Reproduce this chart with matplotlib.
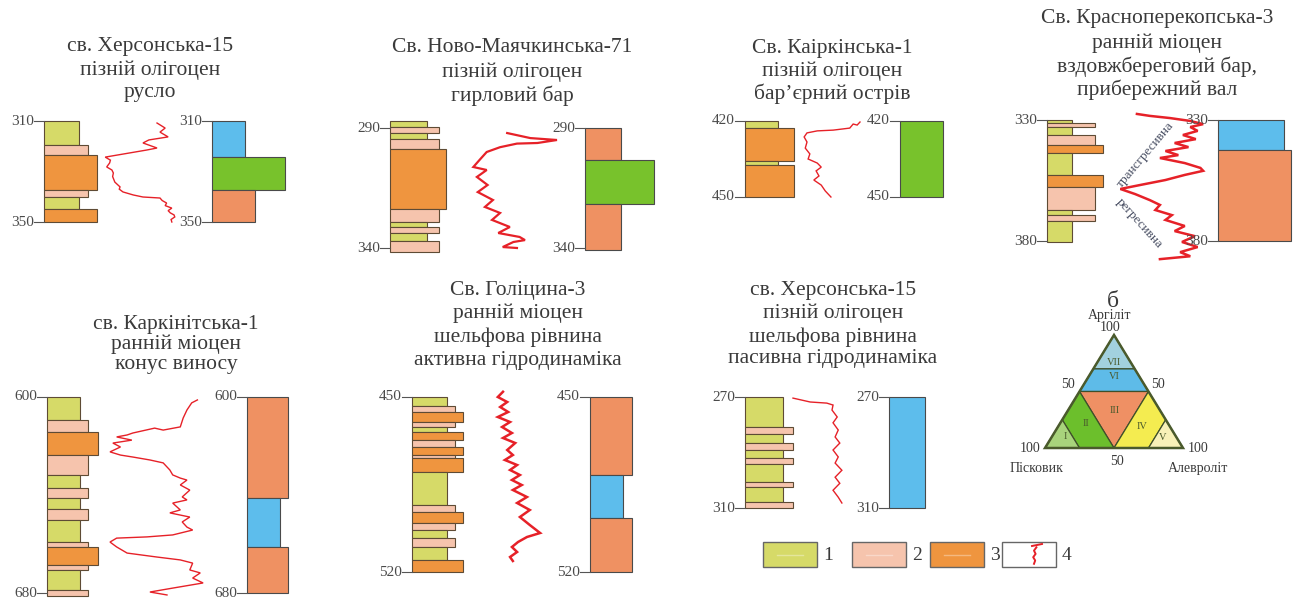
import matplotlib
matplotlib.use("Agg")
import matplotlib.pyplot as plt
from matplotlib.patches import Polygon, Rectangle

plt.rcParams['font.family'] = ['Liberation Serif', 'DejaVu Serif']

# ---------------- data ----------------
# lithology codes: 1 sandstone(yellow) 2 siltstone(pink) 3 claystone(orange)
# facies codes: 'b' blue, 'g' green, 's' salmon

P1_TITLE = ["св. Херсонська-15", "пізній олігоцен", "русло"]
P1_TICKS = [310, 350]
P1_LITH_TOP = [310, 319.5, 323.5, 337.3, 340, 345]
P1_LITH_BOT = [319.5, 323.5, 337.3, 340, 345, 350]
P1_LITH = [1, 2, 3, 2, 1, 3]
P1_LOG_D = [310.8, 312.8, 314.4, 316.3, 317.5, 318.7, 320.7, 321.5, 324.3, 325.5, 326.6, 328.2, 329.4, 330.6,
            332.0, 334.2, 336.1, 337.0, 338.1, 339.3, 340.1, 340.5, 341.5, 342.5, 343.5, 344.5, 345.5, 346.4,
            347.2, 348.0, 349.0, 350.0]
P1_LOG_V = [0.73, 0.84, 0.77, 0.88, 0.62, 0.54, 0.73, 0.59, 0.03, 0.10, 0.09, 0.05, 0.12, 0.14,
            0.13, 0.16, 0.23, 0.22, 0.27, 0.41, 0.54, 0.77, 0.80, 0.86, 0.84, 0.93, 0.88, 0.91,
            0.96, 0.97, 0.92, 0.93]
P1_FAC_TOP = [310, 324.3, 337.3]
P1_FAC_BOT = [324.3, 337.3, 350]
P1_FAC = ['b', 'g', 's']

P2_TITLE = ["Св. Ново-Маячкинська-71", "пізній олігоцен", "гирловий бар"]
P2_TICKS = [290, 340]
P2_LITH_TOP = [287.1, 289.6, 292.1, 294.6, 298.75, 323.75, 329.2, 331.25, 333.75, 337.1]
P2_LITH_BOT = [289.6, 292.1, 294.6, 298.75, 323.75, 329.2, 331.25, 333.75, 337.1, 341.7]
P2_LITH = [1, 2, 1, 2, 3, 2, 1, 2, 1, 2]
P2_LOG_D = [292.1, 294.2, 295.0, 296.25, 296.5, 298.0, 300.0, 303.3, 306.25, 307.5, 310.4, 313.75, 316.7,
            320.0, 322.9, 325.4, 328.3, 331.25, 333.75, 335.4, 336.7, 337.5, 339.6, 340.0]
P2_LOG_V = [0.44, 0.70, 1.00, 0.78, 0.55, 0.36, 0.21, 0.13, 0.06, 0.21, 0.10, 0.22, 0.11,
            0.28, 0.19, 0.36, 0.27, 0.47, 0.34, 0.58, 0.64, 0.51, 0.39, 0.55]
P2_FAC_TOP = [290, 303.3, 321.7]
P2_FAC_BOT = [303.3, 321.7, 340.8]
P2_FAC = ['s', 'g', 's']

P3_TITLE = ["Св. Каіркінська-1", "пізній олігоцен", "бар’єрний острів"]
P3_TICKS = [420, 450]
P3_LITH_TOP = [420, 422.8, 435.8, 437.4]
P3_LITH_BOT = [422.8, 435.8, 437.4, 450]
P3_LITH = [1, 3, 1, 3]
P3_LOG_D = [420.4, 421.6, 421.2, 422.8, 423.6, 423.9, 424.7, 426.3, 428.3, 430.7, 433.0, 435.0, 436.6,
            438.2, 439.7, 441.7, 443.3, 445.3, 447.6, 450.0]
P3_LOG_V = [1.00, 0.95, 0.88, 0.82, 0.53, 0.25, 0.07, 0.02, 0.07, 0.04, 0.12, 0.09, 0.25,
            0.32, 0.23, 0.28, 0.19, 0.32, 0.39, 0.49]
P3_FAC_TOP = [420]
P3_FAC_BOT = [450]
P3_FAC = ['g']

P4_TITLE = ["Св. Красноперекопська-3", "ранній міоцен", "вздовжбереговий бар,", "прибережний вал"]
P4_TICKS = [330, 380]
P4_LITH_TOP = [330, 331.1, 332.8, 336.2, 340.3, 343.8, 352.7, 357.8, 367.2, 369.3, 371.6]
P4_LITH_BOT = [331.1, 332.8, 336.2, 340.3, 343.8, 352.7, 357.8, 367.2, 369.3, 371.6, 380.3]
P4_LITH = [1, 2, 1, 2, 3, 1, 3, 2, 1, 2, 1]
P4_LOG_D = [327.5, 328.3, 329.2, 330.4, 331.7, 332.9, 334.5, 336.2, 337.9, 339.5, 341.2, 342.8, 344.5,
            345.7, 347.8, 349.8, 351.0, 352.7, 354.8, 356.9, 358.5, 360.6, 363.1, 365.1, 367.2, 369.3,
            371.3, 373.8, 375.9, 378.0, 380.4, 382.5, 384.6, 386.3, 387.5]
P4_LOG_V = [0.26, 0.40, 0.62, 0.84, 0.98, 0.84, 0.92, 0.76, 0.90, 0.67, 0.82, 0.57, 0.71,
            0.51, 0.78, 0.95, 0.98, 0.78, 0.57, 0.29, 0.08, 0.24, 0.40, 0.51, 0.46, 0.64,
            0.57, 0.78, 0.67, 0.89, 0.75, 0.92, 0.73, 0.84, 0.51]
P4_FAC_TOP = [330, 342.4]
P4_FAC_BOT = [342.4, 380]
P4_FAC = ['b', 's']
P4_TREND = ["трансгресивна", "регресивна"]

P5_TITLE = ["св. Каркінітська-1", "ранній міоцен", "конус виносу"]
P5_TICKS = [600, 680]
P5_LITH_TOP = [600, 609.4, 614.3, 623.7, 631.8, 637.1, 641.2, 645.7, 650.2, 659.2, 661.2, 668.6, 670.6, 678.8]
P5_LITH_BOT = [609.4, 614.3, 623.7, 631.8, 637.1, 641.2, 645.7, 650.2, 659.2, 661.2, 668.6, 670.6, 678.8, 681.2]
P5_LITH = [1, 2, 3, 2, 1, 2, 1, 2, 1, 2, 3, 2, 1, 2]
P5_LOG_D = [601.2, 602.4, 605.3, 608.6, 612.2, 613.5, 612.7, 614.7, 615.5, 616.3, 617.6, 618.8, 620.4,
            622.4, 623.7, 624.5, 625.7, 626.9, 629.8, 631.8, 633.1, 633.9, 635.9, 638.0, 640.8, 642.0,
            643.3, 646.1, 647.3, 649.0, 651.0, 653.1, 654.3, 656.3, 657.1, 657.6, 659.2, 661.2, 663.7,
            665.3, 666.5, 667.8, 670.6, 671.8, 673.9, 675.9, 678.0, 679.6, 680.8]
P5_LOG_V = [0.92, 0.86, 0.81, 0.77, 0.74, 0.56, 0.47, 0.24, 0.18, 0.07, 0.23, 0.03, 0.11,
            0.00, 0.11, 0.24, 0.42, 0.56, 0.63, 0.66, 0.74, 0.81, 0.74, 0.84, 0.76, 0.81,
            0.66, 0.74, 0.63, 0.84, 0.76, 0.81, 0.87, 0.66, 0.39, 0.07, 0.00, 0.07, 0.18,
            0.49, 0.74, 0.87, 0.84, 0.95, 0.87, 0.98, 0.66, 0.42, 0.60]
P5_FAC_TOP = [600, 641.2, 661.2]
P5_FAC_BOT = [641.2, 661.2, 680]
P5_FAC = ['s', 'b', 's']

P6_TITLE = ["Св. Голіцина-3", "ранній міоцен", "шельфова рівнина", "активна гідродинаміка"]
P6_TICKS = [450, 520]
P6_LITH_TOP = [450, 453.6, 456, 460, 462, 464, 467.2, 470, 473.2, 474.4, 480, 493.2, 496, 500.4, 503.2, 506.4, 510, 515.2]
P6_LITH_BOT = [453.6, 456, 460, 462, 464, 467.2, 470, 473.2, 474.4, 480, 493.2, 496, 500.4, 503.2, 506.4, 510, 515.2, 520]
P6_LITH = [1, 2, 3, 2, 1, 3, 2, 3, 2, 3, 1, 2, 3, 2, 1, 2, 1, 3]
P6_LOG_D = [447.9, 450, 452, 454, 456, 458, 460, 462, 464.4, 466.4, 468.4, 471.2, 473.2, 475.2, 477.2,
            479.2, 481.2, 483.2, 485.2, 487.2, 490, 492.4, 495.2, 498, 501.2, 504.4, 506, 508, 510,
            512, 514, 515.6]
P6_LOG_V = [0.17, 0.06, 0.26, 0.11, 0.28, 0.06, 0.32, 0.15, 0.36, 0.17, 0.43, 0.26, 0.38, 0.21, 0.47,
            0.32, 0.53, 0.36, 0.57, 0.38, 0.68, 0.47, 0.74, 0.53, 0.74, 0.96, 0.68, 0.49, 0.36,
            0.47, 0.32, 0.38]
P6_FAC_TOP = [450, 481.2, 498.4]
P6_FAC_BOT = [481.2, 498.4, 520]
P6_FAC = ['s', 'b', 's']

P7_TITLE = ["св. Херсонська-15", "пізній олігоцен", "шельфова рівнина", "пасивна гідродинаміка"]
P7_TICKS = [270, 310]
P7_LITH_TOP = [270, 280.8, 283.3, 286.6, 289.1, 292.0, 294.1, 300.6, 302.4, 307.8]
P7_LITH_BOT = [280.8, 283.3, 286.6, 289.1, 292.0, 294.1, 300.6, 302.4, 307.8, 310]
P7_LITH = [1, 2, 1, 2, 1, 2, 1, 2, 1, 2]
P7_LOG_D = [270.4, 271.8, 272.2, 272.9, 274.7, 277.2, 279.3, 281.9, 284.4, 286.6, 289.1, 291.6, 293.8,
            296.4, 298.9, 301.1, 303.6, 306.1, 308.2]
P7_LOG_V = [0.00, 0.33, 0.65, 0.77, 0.75, 0.85, 0.77, 0.87, 0.81, 0.90, 0.77, 0.87, 0.81,
            0.94, 0.81, 0.90, 0.77, 0.87, 0.94]
P7_FAC_TOP = [270]
P7_FAC_BOT = [310]
P7_FAC = ['b']

# ternary classification (sand, silt, clay) %
TRI_NAMES = ["VII", "VI", "III", "II", "I", "IV", "V"]
TRI_REGIONS = [
    [(30, 0, 70), (0, 30, 70), (0, 0, 100)],
    [(50, 0, 50), (0, 50, 50), (0, 30, 70), (30, 0, 70)],
    [(50, 0, 50), (0, 50, 50), (50, 50, 0)],
    [(75, 0, 25), (50, 0, 50), (50, 50, 0), (75, 25, 0)],
    [(100, 0, 0), (75, 0, 25), (75, 25, 0)],
    [(0, 50, 50), (0, 75, 25), (25, 75, 0), (50, 50, 0)],
    [(0, 75, 25), (0, 100, 0), (25, 75, 0)],
]
TRI_LABEL_POS = [(12, 12, 76), (18.5, 18.5, 63), (33, 34, 33), (59, 19, 22), (80.5, 9.5, 10),
                 (20.5, 60.5, 19), (10.5, 80.5, 9)]
LEGEND_LABELS = ["1", "2", "3", "4"]
LEGEND_SYMBOL_X = [0.62, 0.50, 0.58, 0.46, 0.56, 0.50]
LEGEND_SYMBOL_Y = [0.15, 0.30, 0.45, 0.60, 0.75, 0.90]

# ---------------- styles ----------------
LITH_COL = {1: '#d6da68', 2: '#f6c4ad', 3: '#ef953f'}
FAC_COL = {'b': '#5dbdec', 'g': '#78c22c', 's': '#ef9162'}
TRI_COL = ['#a2d1df', '#5ebbe8', '#ef9064', '#6cbf2c', '#a8d37c', '#f4ec50', '#f8f1b8']
EDGE = '#5e4b35'
TXT = '#3a3a3a'
RED = '#e62128'

W, H = 1300, 605
fig = plt.figure(figsize=(13, 6.05), dpi=100)
fig.patch.set_facecolor('white')

def panel(data, lay):
    title, ticks, ltop, lbot, lith, logd, logv, ftop, fbot, fac = data
    y0, y1 = lay['ypx']
    ax = fig.add_axes([0, 1 - y1 / H, 1, (y1 - y0) / H])
    ax.set_xlim(0, W)
    ax.set_ylim(ticks[1], ticks[0])
    ax.axis('off')
    lx = lay['lith_x']
    for t, b, c in zip(ltop, lbot, lith):
        ax.barh(t, lay['lith_w'][c], height=b - t, left=lx, align='edge', color=LITH_COL[c],
                edgecolor=EDGE, linewidth=0.8, clip_on=False)
    fx = lay['fac_x']
    for t, b, c, w in zip(ftop, fbot, fac, lay['fac_w']):
        ax.barh(t, w, height=b - t, left=fx, align='edge', color=FAC_COL[c],
                edgecolor='#4a4a4a', linewidth=0.8, clip_on=False)
    bx0, bx1 = lay['band']
    ax.plot([bx0 + v * (bx1 - bx0) for v in logv], logd, color=RED, lw=lay['lw'],
            solid_joinstyle='miter', clip_on=False)
    for x in (lx, fx):
        for d in ticks:
            ax.plot([x - 10, x], [d, d], color='#555555', lw=0.8, clip_on=False)
            ax.text(x - 10, d, str(d), ha='right', va='center', fontsize=11, color='#4a4a4a')
    cx = lay['cx']
    for s, ty in zip(title, lay['ty']):
        fig.text(cx / W, 1 - ty / H, s, ha='center', va='center', fontsize=15.5, color=TXT)
    return ax

LAYOUTS = [
    dict(ypx=(121, 222), lith_x=44, lith_w={1: 35, 2: 44, 3: 53}, band=(103, 177), fac_x=212,
         fac_w=[33, 73, 43], cx=150, ty=[47, 70, 93], lw=1.0),
    dict(ypx=(128, 248), lith_x=390, lith_w={1: 37, 2: 49, 3: 56}, band=(468, 557), fac_x=585,
         fac_w=[36, 69, 36], cx=512, ty=[48, 72, 96], lw=1.6),
    dict(ypx=(121, 197), lith_x=745, lith_w={1: 33, 2: 41, 3: 49}, band=(803, 860), fac_x=900,
         fac_w=[43], cx=832, ty=[48, 71, 94], lw=1.0),
    dict(ypx=(120, 241), lith_x=1047, lith_w={1: 25, 2: 48, 3: 56}, band=(1113, 1205), fac_x=1218,
         fac_w=[66, 73], cx=1157, ty=[18, 43, 67, 90], lw=1.8),
    dict(ypx=(397, 593), lith_x=47, lith_w={1: 33, 2: 41, 3: 51}, band=(110, 205), fac_x=247,
         fac_w=[41, 33, 41], cx=176, ty=[324, 344, 364], lw=1.0),
    dict(ypx=(397, 572), lith_x=412, lith_w={1: 35, 2: 43, 3: 51}, band=(495, 542), fac_x=590,
         fac_w=[42, 33, 42], cx=518, ty=[290, 313, 337, 360], lw=1.8),
    dict(ypx=(397, 508), lith_x=745, lith_w={1: 38, 2: 48, 3: 56}, band=(793, 845), fac_x=889,
         fac_w=[36], cx=833, ty=[290, 313, 337, 359], lw=1.0),
]
DATA = [
    (P1_TITLE, P1_TICKS, P1_LITH_TOP, P1_LITH_BOT, P1_LITH, P1_LOG_D, P1_LOG_V, P1_FAC_TOP, P1_FAC_BOT, P1_FAC),
    (P2_TITLE, P2_TICKS, P2_LITH_TOP, P2_LITH_BOT, P2_LITH, P2_LOG_D, P2_LOG_V, P2_FAC_TOP, P2_FAC_BOT, P2_FAC),
    (P3_TITLE, P3_TICKS, P3_LITH_TOP, P3_LITH_BOT, P3_LITH, P3_LOG_D, P3_LOG_V, P3_FAC_TOP, P3_FAC_BOT, P3_FAC),
    (P4_TITLE, P4_TICKS, P4_LITH_TOP, P4_LITH_BOT, P4_LITH, P4_LOG_D, P4_LOG_V, P4_FAC_TOP, P4_FAC_BOT, P4_FAC),
    (P5_TITLE, P5_TICKS, P5_LITH_TOP, P5_LITH_BOT, P5_LITH, P5_LOG_D, P5_LOG_V, P5_FAC_TOP, P5_FAC_BOT, P5_FAC),
    (P6_TITLE, P6_TICKS, P6_LITH_TOP, P6_LITH_BOT, P6_LITH, P6_LOG_D, P6_LOG_V, P6_FAC_TOP, P6_FAC_BOT, P6_FAC),
    (P7_TITLE, P7_TICKS, P7_LITH_TOP, P7_LITH_BOT, P7_LITH, P7_LOG_D, P7_LOG_V, P7_FAC_TOP, P7_FAC_BOT, P7_FAC),
]
axes = [panel(d, l) for d, l in zip(DATA, LAYOUTS)]

# trend labels on panel 4
ax4 = axes[3]
ax4.text(1146, 344.5, P4_TREND[0], rotation=50, ha='center', va='center', fontsize=9.5, color='#4a5064')
ax4.text(1139, 372.6, P4_TREND[1], rotation=-48, ha='center', va='center', fontsize=9.5, color='#4a5064')

# ---------------- ternary diagram ----------------
def tern(p):
    sand, silt, clay = p
    return ((silt + clay / 2) / 100.0, clay / 100.0)

axt = fig.add_axes([1045 / W, 1 - 448 / H, 138 / W, 113 / H])
axt.set_xlim(0, 1)
axt.set_ylim(0, 1)
axt.axis('off')
for reg, col in zip(TRI_REGIONS, TRI_COL):
    axt.add_patch(Polygon([tern(p) for p in reg], closed=True, facecolor=col, edgecolor='#3f4f2a',
                          linewidth=0.9, clip_on=False))
axt.add_patch(Polygon([tern((100, 0, 0)), tern((0, 100, 0)), tern((0, 0, 100))], closed=True,
                      fill=False, edgecolor='#4a5a2c', linewidth=1.8, clip_on=False))
for nm, p in zip(TRI_NAMES, TRI_LABEL_POS):
    x, y = tern(p)
    axt.text(x, y, nm, ha='center', va='center', fontsize=7.5, color='#4a5a2c')
tkw = dict(ha='center', va='center', color=TXT, clip_on=False)
axt.text(0.49, 1.30, "б", fontsize=17, **tkw)
axt.text(0.47, 1.17, "Аргіліт", fontsize=10, **tkw)
axt.text(0.47, 1.07, "100", fontsize=10, **tkw)
axt.text(0.17, 0.56, "50", fontsize=10, **tkw)
axt.text(0.82, 0.56, "50", fontsize=10, **tkw)
axt.text(-0.11, 0.0, "100", fontsize=10, **tkw)
axt.text(1.11, 0.0, "100", fontsize=10, **tkw)
axt.text(0.52, -0.12, "50", fontsize=10, **tkw)
axt.text(-0.06, -0.18, "Пісковик", fontsize=10, **tkw)
axt.text(1.11, -0.18, "Алевроліт", fontsize=10, **tkw)

# ---------------- legend ----------------
axl = fig.add_axes([0, 0, 1, 1])
axl.set_xlim(0, W)
axl.set_ylim(H, 0)
axl.axis('off')
LEG_BOX_X = [763, 852, 930, 1002]
LEG_FILL = [LITH_COL[1], LITH_COL[2], LITH_COL[3], 'white']
for i, (x, fc, lab) in enumerate(zip(LEG_BOX_X, LEG_FILL, LEGEND_LABELS)):
    axl.add_patch(Rectangle((x, 542), 54, 25, facecolor=fc, edgecolor='#666666', linewidth=1.0))
    if i < 3:
        axl.plot([x + 14, x + 40], [554.5, 554.5], color='white', alpha=0.35, lw=1.0)
    axl.text(x + 60, 555, lab, ha='left', va='center', fontsize=14, color=TXT)
axl.plot([1002 + 22 + v * 20 for v in LEGEND_SYMBOL_X], [544 + v * 22 for v in LEGEND_SYMBOL_Y],
         color=RED, lw=1.4)
axl.plot([1032, 1042], [546, 544], color=RED, lw=1.4)

fig.savefig('out.png', dpi=100, facecolor='white')
